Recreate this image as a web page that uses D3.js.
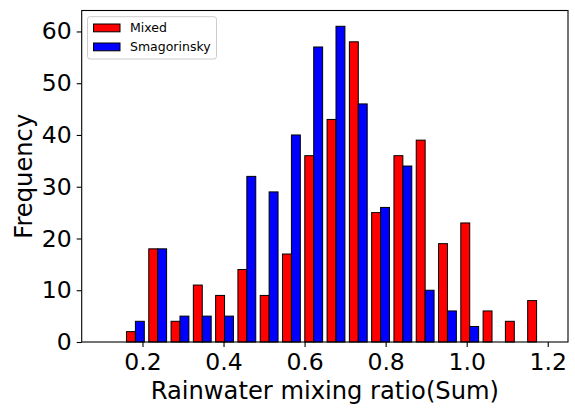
<!DOCTYPE html>
<html>
<head>
<meta charset="utf-8">
<script src="https://cdn.jsdelivr.net/npm/d3@7"></script>
<style>
  body { margin: 0; background: #fff; }
  svg { display: block; font-family: "DejaVu Sans", sans-serif; }
</style>
</head>
<body>
<div id="chart"></div>
<script>
// left edge of each histogram bin (bin width 0.055)
const binStarts = [0.100, 0.155, 0.210, 0.265, 0.320, 0.375, 0.430, 0.485, 0.540, 0.595,
                   0.650, 0.705, 0.760, 0.815, 0.870, 0.925, 0.980, 1.035, 1.090, 1.145];
const binWidth = 0.055;
const mixed = [0, 2, 18, 4, 11, 9, 14, 9, 17, 36, 43, 58, 25, 36, 39, 19, 23, 6, 4, 8];
const smagorinsky = [0, 4, 18, 5, 5, 5, 32, 29, 40, 57, 61, 46, 26, 34, 10, 6, 3, 0, 0, 0];
const seriesNames = ["Mixed", "Smagorinsky"];
const seriesColors = ["#ff0000", "#0000ff"];
const xTicks = [0.2, 0.4, 0.6, 0.8, 1.0, 1.2];
const yTicks = [0, 10, 20, 30, 40, 50, 60];

const width = 575, height = 408;
const margin = {top: 10.5, right: 7, bottom: 66, left: 81.7};

const svg = d3.select("#chart").append("svg")
    .attr("width", width)
    .attr("height", height);

const x = d3.scaleLinear()
    .domain([0.05, 1.25])
    .range([margin.left, width - margin.right]);

const y = d3.scaleLinear()
    .domain([0, 61 * 1.05])
    .range([height - margin.bottom, margin.top]);

// bars: two side by side in each bin, 0.8 of bin width together
const series = [mixed, smagorinsky];
series.forEach((vals, s) => {
  svg.append("g")
    .selectAll("rect")
    .data(vals.map((v, i) => ({v, x0: binStarts[i]})))
    .join("rect")
      .attr("x", d => x(d.x0 + binWidth * (0.1 + 0.4 * s)))
      .attr("width", d => x(d.x0 + binWidth * 0.4) - x(d.x0))
      .attr("y", d => y(d.v))
      .attr("height", d => y(0) - y(d.v))
      .attr("fill", seriesColors[s])
      .attr("stroke", "#000")
      .attr("stroke-width", 1);
});

// axes
const xAxis = svg.append("g")
    .attr("transform", `translate(0,${height - margin.bottom})`)
    .call(d3.axisBottom(x).tickValues(xTicks).tickFormat(d3.format(".1f")).tickSizeOuter(0).tickSize(5).tickPadding(6));

const yAxis = svg.append("g")
    .attr("transform", `translate(${margin.left},0)`)
    .call(d3.axisLeft(y).tickValues(yTicks).tickSizeOuter(0).tickSize(5).tickPadding(5));

[xAxis, yAxis].forEach(a => {
  a.select(".domain").remove();
  a.selectAll("line").attr("stroke", "#000").attr("stroke-width", 1.1);
  a.selectAll("text").attr("font-size", 23.5).attr("fill", "#000")
    .attr("font-family", "DejaVu Sans");
});

// frame
svg.append("rect")
    .attr("x", margin.left)
    .attr("y", margin.top)
    .attr("width", width - margin.right - margin.left)
    .attr("height", height - margin.bottom - margin.top)
    .attr("fill", "none")
    .attr("stroke", "#000")
    .attr("stroke-width", 1.1);

// axis labels
svg.append("text")
    .attr("x", (margin.left + width - margin.right) / 2)
    .attr("y", 398.5)
    .attr("text-anchor", "middle")
    .attr("font-size", 24.2)
    .text("Rainwater mixing ratio(Sum)");

svg.append("text")
    .attr("transform", `translate(32,${(margin.top + height - margin.bottom) / 2}) rotate(-90)`)
    .attr("text-anchor", "middle")
    .attr("font-size", 24.2)
    .text("Frequency");

// legend
const legend = svg.append("g");
legend.append("rect")
    .attr("x", 87.5).attr("y", 16.7)
    .attr("width", 129).attr("height", 42.3)
    .attr("rx", 2.5)
    .attr("fill", "#fff").attr("fill-opacity", 0.8)
    .attr("stroke", "#ccc");

seriesNames.forEach((name, i) => {
  const yy = 24 + i * 19;
  legend.append("rect")
      .attr("x", 93.5).attr("y", yy)
      .attr("width", 26.5).attr("height", 7.8)
      .attr("fill", seriesColors[i])
      .attr("stroke", "#000");
  legend.append("text")
      .attr("x", 130).attr("y", yy + 8)
      .attr("font-size", 12.5)
      .text(name);
});
</script>
</body>
</html>
